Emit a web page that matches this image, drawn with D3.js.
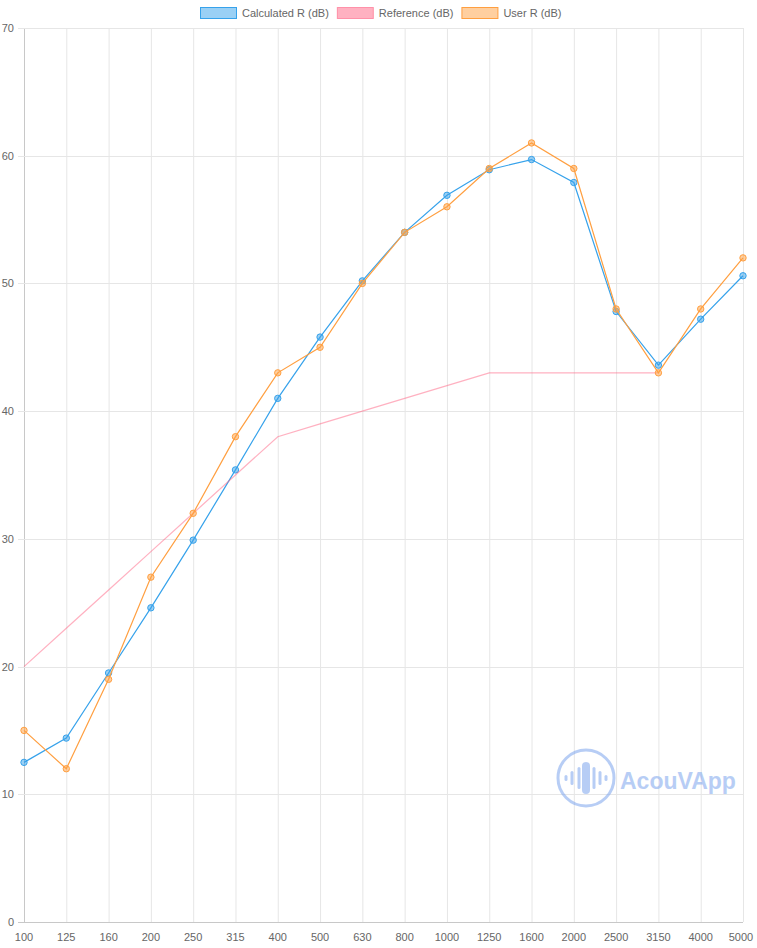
<!DOCTYPE html>
<html>
<head>
<meta charset="utf-8">
<script src="https://cdn.jsdelivr.net/npm/d3@7/dist/d3.min.js"></script>
<style>
  body{margin:0;background:#fff;}
  svg text{font-family:"Liberation Sans",Arial,sans-serif;}
</style>
</head>
<body>
<svg id="chart" width="757" height="948"></svg>
<script>
const freqs=["100","125","160","200","250","315","400","500","630","800","1000","1250","1600","2000","2500","3150","4000","5000"];
const calculated=[12.5,14.4,19.5,24.6,29.9,35.4,41.0,45.8,50.2,54.0,56.9,58.9,59.7,57.9,47.8,43.6,47.2,50.6];
const reference=[20,23,26,29,32,35,38,39,40,41,42,43,43,43,43,43,null,null];
const userR=[15,12,19,27,32,38,43,45,50,54,56,59,61,59,48,43,48,52];
const yTicks=[0,10,20,30,40,50,60,70];

const series=[
  {name:"Calculated R (dB)",values:calculated,stroke:"rgb(54,162,235)",fill:"rgba(54,162,235,0.5)",points:true},
  {name:"Reference (dB)",values:reference,stroke:"rgba(255,99,132,0.5)",fill:"rgba(255,99,132,0.5)",box:"rgba(255,99,132,0.6)",points:false},
  {name:"User R (dB)",values:userR,stroke:"rgb(255,159,64)",fill:"rgba(255,159,64,0.5)",points:true}
];

const svg=d3.select("#chart");
const pLeft=24,pRight=743,pTop=28,pBottom=922;
const x=d3.scalePoint().domain(freqs).range([pLeft,pRight]);
const y=d3.scaleLinear().domain([0,70]).range([pBottom,pTop]);

// grid
const grid=svg.append("g");
grid.selectAll(".gx").data(freqs).enter().append("line")
  .attr("x1",d=>x(d)+0.5).attr("x2",d=>x(d)+0.5).attr("y1",pTop).attr("y2",pBottom)
  .attr("stroke",d=>d===freqs[0]?"#c8c8c8":"#e6e6e6");
grid.selectAll(".gy").data(yTicks).enter().append("line")
  .attr("x1",pLeft-6).attr("x2",pRight).attr("y1",d=>Math.round(y(d))+0.5).attr("y2",d=>Math.round(y(d))+0.5)
  .attr("stroke",d=>d===0?"#c8c8c8":"#e6e6e6");

// tick labels
svg.append("g").selectAll("text").data(yTicks).enter().append("text")
  .attr("x",14).attr("y",d=>y(d)+4).attr("text-anchor","end")
  .attr("font-size",11).attr("fill","#666").text(d=>d);
svg.append("g").selectAll("text").data(freqs).enter().append("text")
  .attr("x",d=>d===freqs[freqs.length-1]?x(d)-2:x(d)).attr("y",941).attr("text-anchor","middle")
  .attr("font-size",11).attr("fill","#666").text(d=>d);

// watermark
const wm=svg.append("g").attr("opacity",0.55);
const wc="#7ea6ee";
wm.append("circle").attr("cx",586).attr("cy",778).attr("r",28).attr("fill","none").attr("stroke",wc).attr("stroke-width",3);
[[-20,6],[-14,14],[-7,22],[0,32],[8,22],[14,14],[20,6]].forEach(([dx,h])=>{
  wm.append("rect").attr("x",586+dx-(dx===0?4:1.5)).attr("y",778-h/2).attr("width",dx===0?8:3).attr("height",h)
    .attr("rx",dx===0?4:1.5).attr("fill",wc);
});
wm.append("text").attr("x",620).attr("y",789).attr("font-size",23).attr("font-weight","bold")
  .attr("fill",wc).attr("font-family","'Open Sans',Arial,sans-serif").text("AcouVApp");

// lines
const line=d3.line().defined(d=>d.v!==null).x(d=>x(d.f)).y(d=>y(d.v));
series.forEach(s=>{
  const pts=freqs.map((f,i)=>({f,v:s.values[i]}));
  svg.append("path").datum(pts).attr("d",line).attr("fill","none")
    .attr("stroke",s.stroke).attr("stroke-width",1.2);
  if(s.points){
    svg.append("g").selectAll("circle").data(pts.filter(p=>p.v!==null)).enter().append("circle")
      .attr("cx",p=>x(p.f)).attr("cy",p=>y(p.v)).attr("r",3.2)
      .attr("fill",s.fill).attr("stroke",s.stroke).attr("stroke-width",1);
  }
});

// legend
const legend=svg.append("g");
let lx=200;
series.forEach(s=>{
  legend.append("rect").attr("x",lx+0.5).attr("y",7.5).attr("width",36).attr("height",11)
    .attr("fill",s.fill).attr("stroke",s.box||s.stroke).attr("stroke-width",1);
  const t=legend.append("text").attr("x",lx+42).attr("y",17).attr("font-size",11).attr("fill","#666").text(s.name);
  lx+=42+t.node().getComputedTextLength()+8;
});
</script>
</body>
</html>
